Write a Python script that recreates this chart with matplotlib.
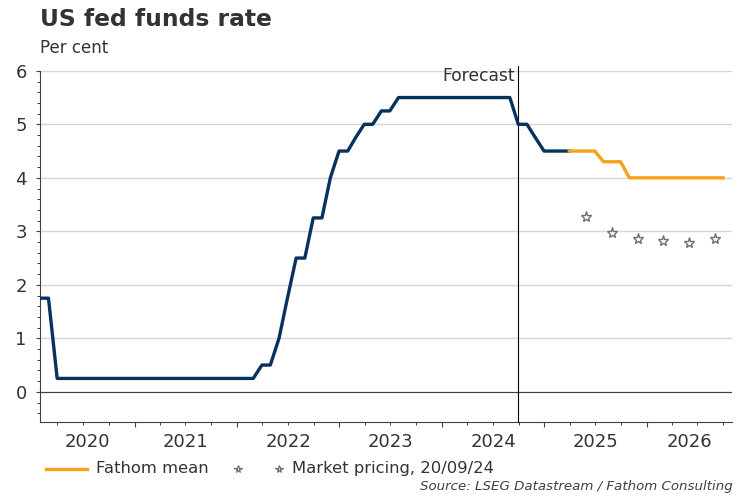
import datetime as dt
import numpy as np
import pandas as pd
import matplotlib
matplotlib.use('Agg')
import matplotlib.pyplot as plt
import matplotlib.dates as mdates
from matplotlib.lines import Line2D
from matplotlib.ticker import MultipleLocator

# fed funds upper bound, month end, Jan 2020 - Mar 2025
fed_funds = [
    1.75, 1.75, 0.25, 0.25, 0.25, 0.25, 0.25, 0.25, 0.25, 0.25, 0.25, 0.25,   # 2020
    0.25, 0.25, 0.25, 0.25, 0.25, 0.25, 0.25, 0.25, 0.25, 0.25, 0.25, 0.25,   # 2021
    0.25, 0.25, 0.50, 0.50, 1.00, 1.75, 2.50, 2.50, 3.25, 3.25, 4.00, 4.50,   # 2022
    4.50, 4.75, 5.00, 5.00, 5.25, 5.25, 5.50, 5.50, 5.50, 5.50, 5.50, 5.50,   # 2023
    5.50, 5.50, 5.50, 5.50, 5.50, 5.50, 5.50, 5.50, 5.00, 5.00, 4.75, 4.50,   # 2024
    4.50, 4.50, 4.50,                                                         # 2025
]
fed_start = '2020-01-31'

# Fathom mean, Mar 2025 - Sep 2026
fathom_mean = [4.50, 4.50, 4.50, 4.50, 4.30, 4.30, 4.30,
               4.00, 4.00, 4.00, 4.00, 4.00, 4.00, 4.00, 4.00, 4.00, 4.00, 4.00, 4.00]
fathom_start = '2025-03-31'

# market pricing, 20/09/24
market_dates = ['2025-05-31', '2025-08-31', '2025-11-30', '2026-02-28', '2026-05-31', '2026-08-31']
market_vals = [3.26, 2.96, 2.85, 2.81, 2.79, 2.85]

forecast_date = '2024-09-30'
years = [2020, 2021, 2022, 2023, 2024, 2025, 2026]

NAVY = '#06325e'
ORANGE = '#f5a31a'
STAR = '#6f6f6f'
TXT = '#333333'

plt.rcParams['font.family'] = ['DejaVu Sans']

fig = plt.figure(figsize=(7.5, 5), dpi=100)
W, H = 750.0, 500.0
ax = fig.add_axes([39.5 / W, 1 - 422.3 / H, (731.7 - 39.5) / W, (422.3 - 70.8) / H])

fed_dates = pd.date_range(fed_start, periods=len(fed_funds), freq='ME')
fm_dates = pd.date_range(fathom_start, periods=len(fathom_mean), freq='ME')

ax.plot(fed_dates, fed_funds, color=NAVY, lw=2.4, solid_joinstyle='round', zorder=4)
ax.plot(fm_dates, fathom_mean, color=ORANGE, lw=2.4, solid_joinstyle='round', zorder=4)
ax.plot(pd.to_datetime(market_dates), market_vals, ls='none', marker='*', ms=8,
        mfc='white', mec=STAR, mew=1.0, zorder=5)

x0, x1 = dt.datetime(2020, 1, 28), dt.datetime(2026, 10, 31)
ax.set_xlim(x0, x1)
ax.set_ylim(-0.57, 6)

for s in ['top', 'right']:
    ax.spines[s].set_visible(False)
for s in ['left', 'bottom']:
    ax.spines[s].set_color('#404040')
    ax.spines[s].set_linewidth(0.8)

ax.set_yticks(range(0, 7))
ax.yaxis.set_minor_locator(MultipleLocator(0.2))
ax.tick_params(axis='y', which='major', length=3.2, width=0.8, color='#404040',
               labelsize=13, labelcolor=TXT, pad=6)
ax.tick_params(axis='y', which='minor', length=2, width=0.7, color='#404040')
ax.yaxis.grid(True, which='major', color='#d6d6d6', lw=1.0)
ax.set_axisbelow(True)
ax.axhline(0, color='#404040', lw=0.8, zorder=2)

ax.xaxis.set_major_locator(mdates.YearLocator())
ax.xaxis.set_minor_locator(mdates.MonthLocator(bymonth=[1, 4, 7, 10]))
ax.xaxis.set_major_formatter(plt.NullFormatter())
ax.tick_params(axis='x', which='major', length=3.5, width=0.8, color='#404040')
ax.tick_params(axis='x', which='minor', length=1.8, width=0.7, color='#404040')

# year labels centred in the visible part of each year
for yr in years:
    lo = max(dt.datetime(yr, 1, 1), x0)
    hi = min(dt.datetime(yr + 1, 1, 1), x1)
    mid = lo + (hi - lo) / 2
    ax.annotate(str(yr), xy=(mid, 0), xycoords=('data', 'axes fraction'),
                xytext=(0, -8), textcoords='offset points', ha='center', va='top',
                fontsize=13, color=TXT)

# forecast marker
fc = pd.Timestamp(forecast_date)
ax.axvline(fc, ymin=0, ymax=1.014, color='black', lw=0.8, clip_on=False, zorder=3)
ax.annotate('Forecast', xy=(fc, 0.972), xycoords=('data', 'axes fraction'),
            xytext=(-2.2, 0), textcoords='offset points', ha='right', va='baseline',
            fontsize=12.3, color=TXT)

fig.text(40 / W, 1 - 26 / H, 'US fed funds rate', fontsize=16.8, fontweight='bold',
         color=TXT, va='baseline')
fig.text(40 / W, 1 - 53.3 / H, 'Per cent', fontsize=12, color=TXT, va='baseline')

# legend drawn by hand to match the spacing
ly = 1 - 468.5 / H
fig.add_artist(Line2D([46 / W, 87.3 / W], [ly, ly], transform=fig.transFigure,
                      color=ORANGE, lw=2.4))
fig.text(95.7 / W, 1 - 473.3 / H, 'Fathom mean', fontsize=11.8, color=TXT, va='baseline')
for sx in [238.3, 279.3]:
    fig.add_artist(Line2D([sx / W], [ly], transform=fig.transFigure, ls='none',
                          marker='*', ms=5.5, mfc='white', mec=STAR, mew=0.9))
fig.text(291.7 / W, 1 - 473.3 / H, 'Market pricing, 20/09/24', fontsize=11.8,
         color=TXT, va='baseline')

fig.text(733 / W, 1 - 490 / H, 'Source: LSEG Datastream / Fathom Consulting',
         fontsize=9.6, style='italic', color='#404040', ha='right', va='baseline')

fig.savefig('out.png', dpi=100)
